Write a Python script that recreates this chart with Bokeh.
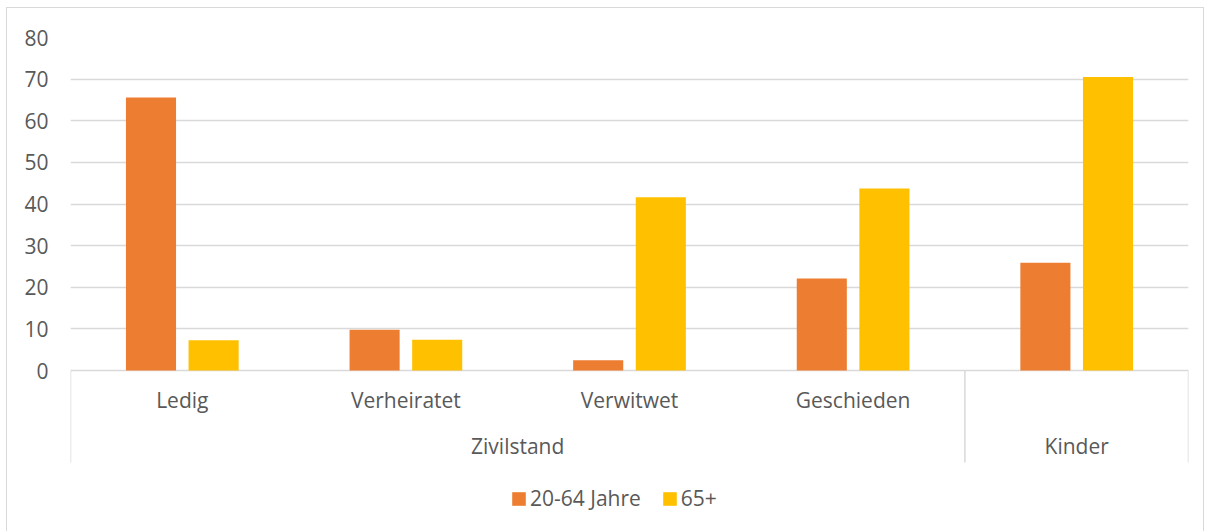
from bokeh.plotting import figure
from bokeh.models import FactorRange, Range1d, FixedTicker, Legend, LegendItem, ColumnDataSource
from bokeh.transform import dodge
from bokeh.core.properties import value
from bokeh.embed import file_html
from bokeh.resources import INLINE

# ---- data ----
categories = ["Ledig", "Verheiratet", "Verwitwet", "Geschieden", "Kinder"]
sub_labels = ["Ledig", "Verheiratet", "Verwitwet", "Geschieden", ""]
groups = ["Zivilstand", "Kinder"]
group_sizes = [4, 1]
series_names = ["20-64 Jahre", "65+"]
values_20_64 = [65.6, 9.8, 2.5, 22.1, 25.9]
values_65 = [7.3, 7.4, 41.6, 43.7, 70.5]
y_ticks = [0, 10, 20, 30, 40, 50, 60, 70, 80]

# ---- style ----
ORANGE = "#ED7D31"
YELLOW = "#FFC000"
TEXT = "#595959"
GRID = "#D9D9D9"
FONT = "Open Sans"
FS = "21px"
Y_MIN = -38.9          # frame extends to canvas bottom (category axis + legend inside)
AXIS_BOTTOM = -22.1    # lower end of the category axis separators
CAT_LABEL_Y = -7.0
GROUP_LABEL_Y = -18.05

src = ColumnDataSource(dict(cat=categories, a=values_20_64, b=values_65))

p = figure(width=1198, height=524,
           x_range=FactorRange(*categories, range_padding=0, factor_padding=0),
           y_range=Range1d(Y_MIN, 80),
           x_axis_location=None,
           output_backend="svg", toolbar_location=None,
           min_border_left=63, min_border_right=17, min_border_top=29, min_border_bottom=0)
p.styles = {"border-top": "1px solid #D9D9D9", "border-left": "1px solid #D9D9D9",
            "border-right": "1px solid #D9D9D9",
            "margin-left": "6px", "margin-top": "7px"}
p.outline_line_color = None
p.background_fill_color = "white"
p.border_fill_color = "white"

# y axis
p.yaxis.ticker = FixedTicker(ticks=y_ticks)
p.yaxis.axis_line_color = None
p.yaxis.major_tick_line_color = None
p.yaxis.minor_tick_line_color = None
p.yaxis.major_tick_out = 0
p.yaxis.major_tick_in = 0
p.yaxis.major_label_standoff = 22
p.yaxis.major_label_text_font = FONT
p.yaxis.major_label_text_font_size = FS
p.yaxis.major_label_text_color = TEXT

p.xgrid.visible = False
p.ygrid.ticker = FixedTicker(ticks=y_ticks)
p.ygrid.grid_line_color = GRID
p.ygrid.grid_line_width = 1.5

r1 = p.vbar(x=dodge("cat", -0.14, range=p.x_range), top="a", bottom=0, width=0.224,
            source=src, fill_color=ORANGE, line_color=None)
r2 = p.vbar(x=dodge("cat", 0.14, range=p.x_range), top="b", bottom=0, width=0.224,
            source=src, fill_color=YELLOW, line_color=None)

# group separators of the category axis
bounds = [0]
for s in group_sizes:
    bounds.append(bounds[-1] + s)
centers = [(bounds[i] + bounds[i + 1]) / 2 for i in range(len(group_sizes))]
p.segment(x0=bounds, x1=bounds, y0=[0] * len(bounds), y1=[AXIS_BOTTOM] * len(bounds),
          line_color=GRID, line_width=1.5)

# category labels
p.text(x=categories, y=[CAT_LABEL_Y] * len(categories), text=sub_labels,
       text_align="center", text_baseline="middle", text_color=TEXT,
       text_font=value(FONT), text_font_size=FS)
p.text(x=centers, y=[GROUP_LABEL_Y] * len(groups), text=groups,
       text_align="center", text_baseline="middle", text_color=TEXT,
       text_font=value(FONT), text_font_size=FS)

legend = Legend(items=[LegendItem(label=series_names[0], renderers=[r1]),
                       LegendItem(label=series_names[1], renderers=[r2])],
                orientation="horizontal", location=(440, 20),
                glyph_width=17, glyph_height=17, label_standoff=3, spacing=20,
                label_text_font=FONT, label_text_font_size=FS, label_text_color=TEXT,
                border_line_color=None, background_fill_alpha=0, padding=0, margin=0)
p.add_layout(legend, "center")

open("out.html", "w").write(file_html(p, INLINE))
